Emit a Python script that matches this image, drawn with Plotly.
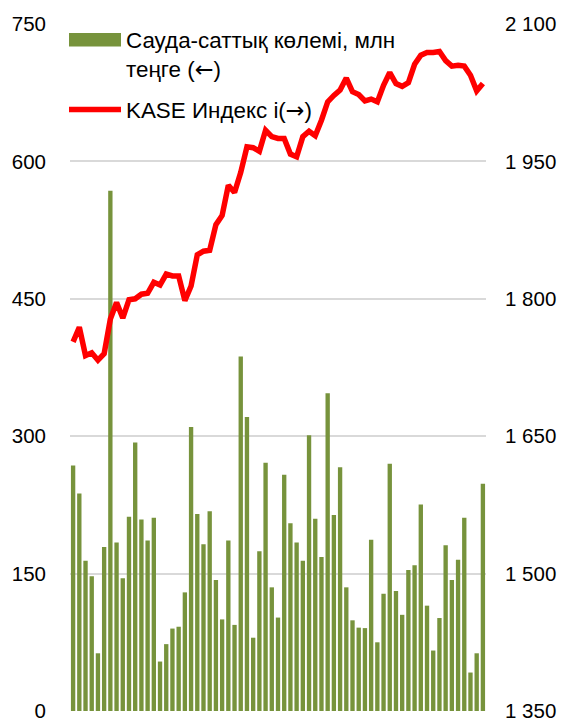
import plotly.graph_objects as go

# Period index (weeks), no x labels shown in the original
periods = list(range(1, 68))

# Trading volume, mln tenge (left axis)
volume = [268, 237.5, 164, 147, 63, 179, 568, 184, 145, 212,
          293, 209, 186, 211, 54, 73, 90, 92, 129.5, 310,
          215, 182, 218, 143, 100, 186, 94, 387, 321, 80,
          174.5, 271, 135, 102, 258, 205, 184, 164, 301, 210,
          168, 347, 214, 266, 135, 99, 91, 90.5, 187, 75,
          128, 270, 131, 105, 154, 159, 225.5, 115, 66, 101.5,
          181, 143, 165, 211, 42, 63, 248]

# KASE index (right axis)
kase = [1753, 1769, 1738, 1741, 1733, 1740, 1778, 1796, 1779, 1799,
        1800, 1805, 1806, 1818, 1815, 1827, 1825, 1825, 1798, 1814,
        1848, 1852, 1853, 1881, 1891, 1924, 1916, 1938, 1966, 1965,
        1961, 1984, 1977, 1975, 1975, 1958, 1955, 1977, 1983, 1978,
        1995, 2015, 2022, 2028, 2041, 2026, 2023, 2016, 2018, 2015,
        2033, 2047, 2035, 2032, 2036, 2056, 2066, 2069, 2069, 2070,
        2060, 2054, 2055, 2054, 2044, 2027, 2035]

left_ticks = [0, 150, 300, 450, 600, 750]
right_ticks = [1350, 1500, 1650, 1800, 1950, 2100]
right_ticktext = ["1 350", "1 500", "1 650", "1 800", "1 950", "2 100"]

ARROW = "<span style='font-family:DejaVu Sans'>{}</span>"
bar_name_1 = "Сауда-саттық көлемі, млн"
bar_name_2 = "теңге (" + ARROW.format("←") + ")"
line_name = "KASE Индекс і(" + ARROW.format("→") + ")"

FONT = "Arial, Liberation Sans, sans-serif"
GREEN = "#77933C"
RED = "#FF0000"
GRID = "#d9d9d9"

fig = go.Figure()
fig.add_trace(go.Bar(x=periods, y=volume, marker=dict(color=GREEN, line=dict(width=0)),
                     name="Сауда-саттық көлемі, млн теңге (←)", yaxis="y", showlegend=False))
fig.add_trace(go.Scatter(x=periods, y=kase, mode="lines", line=dict(color=RED, width=5.5),
                         name="KASE Индекс і(→)", yaxis="y2", showlegend=False))

# page offset of 8px (browser body margin)
OFF = 8
W_PAGE, H_PAGE = 565, 723
W, H = W_PAGE - OFF, H_PAGE - OFF
PL, PR, PT, PB = 70, 486, 23.5, 711   # plot area in page pixels
L, R, T, B = PL - OFF, W_PAGE - PR, PT - OFF, H_PAGE - PB
pw, ph = PR - PL, PB - PT


def px(xp):
    return (xp - PL) / pw


def py(yp):
    return (PB - yp) / ph


# custom legend
fig.add_shape(type="rect", xref="paper", yref="paper",
              x0=px(69), x1=px(121), y0=py(46), y1=py(32.5),
              fillcolor=GREEN, line=dict(width=0))
fig.add_shape(type="line", xref="paper", yref="paper",
              x0=px(69), x1=px(121), y0=py(109), y1=py(109),
              line=dict(color=RED, width=5.5))
for txt, yy in [(bar_name_1, 40), (bar_name_2, 69), (line_name, 110)]:
    fig.add_annotation(text=txt, xref="paper", yref="paper", x=px(124), y=py(yy),
                       xanchor="left", yanchor="middle", showarrow=False,
                       font=dict(family=FONT, size=22.4, color="#000000"))

fig.update_layout(
    width=W, height=H,
    margin=dict(l=L, r=R, t=T, b=B, pad=0, autoexpand=False),
    paper_bgcolor="white", plot_bgcolor="white",
    bargap=0.3,
    font=dict(family=FONT, size=20, color="#000000"),
    xaxis=dict(type="category", range=[-0.5, 66.5], showticklabels=False, showgrid=False,
               zeroline=False, showline=False, ticks="", automargin=False),
    yaxis=dict(range=[0, 750], tickvals=left_ticks, showgrid=True, gridcolor=GRID, gridwidth=2,
               zeroline=False, showline=False, ticks="", ticklabelstandoff=23, automargin=False,
               tickfont=dict(family=FONT, size=20.5, color="#000000")),
    yaxis2=dict(range=[1350, 2100], tickvals=right_ticks, ticktext=right_ticktext,
                overlaying="y", side="right", showgrid=False, zeroline=False, showline=False,
                ticks="", ticklabelstandoff=18, automargin=False,
                tickfont=dict(family=FONT, size=20.5, color="#000000")),
)

fig.write_html("out.html")
